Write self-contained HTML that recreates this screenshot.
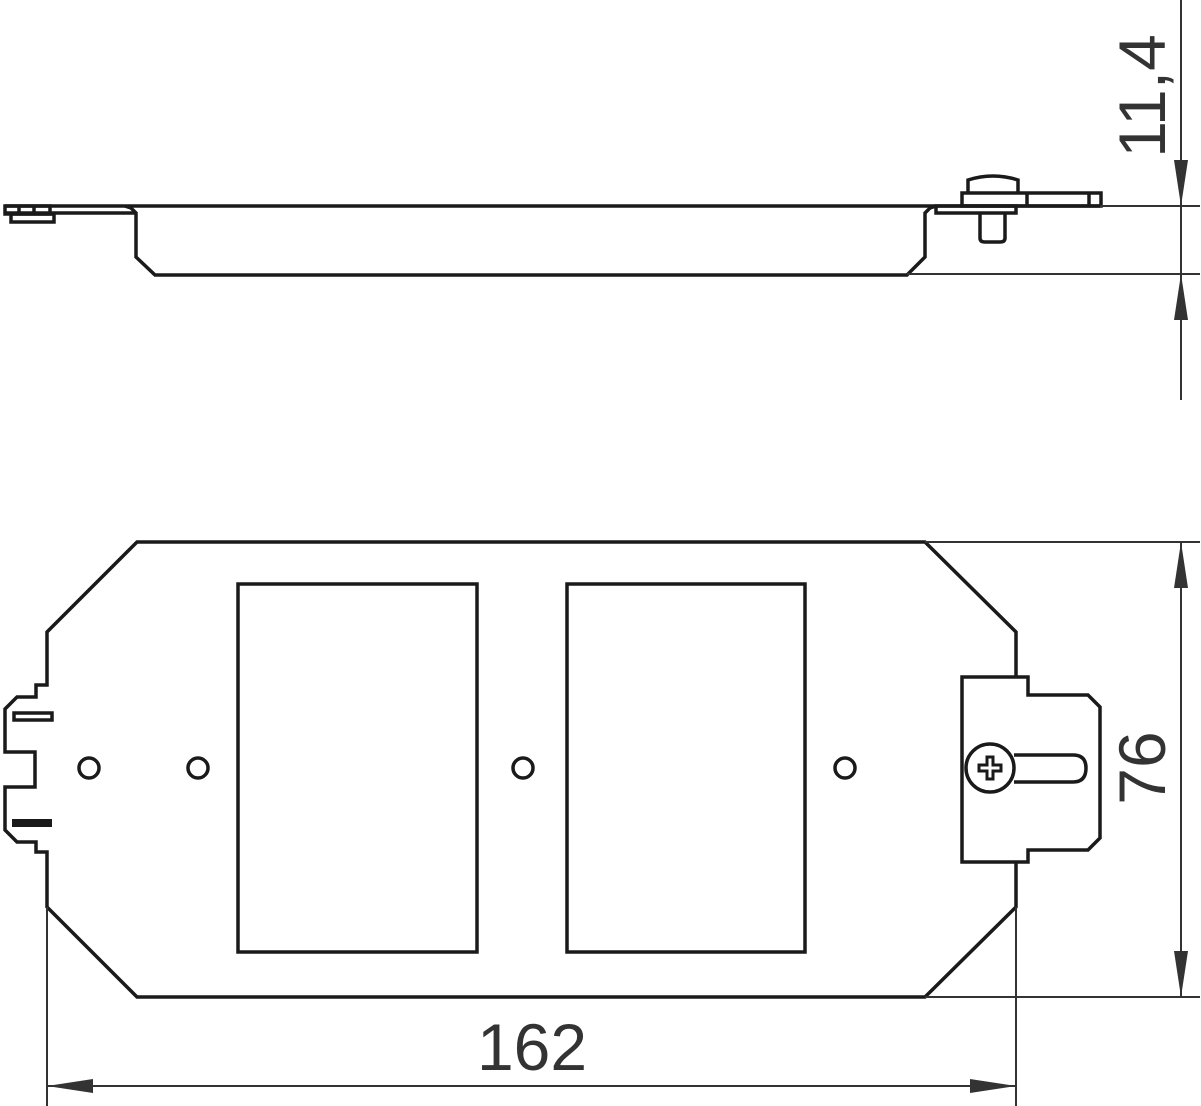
<!DOCTYPE html>
<html><head><meta charset="utf-8"><style>html,body{margin:0;padding:0;background:#fff}svg{display:block}</style></head>
<body>
<svg width="1201" height="1106" viewBox="0 0 1201 1106" xmlns="http://www.w3.org/2000/svg">
<g fill="none" stroke="#1a1a1a" stroke-width="3.5" stroke-linejoin="miter">
<!-- side view -->
<line x1="5" y1="206" x2="1100" y2="206"/>
<line x1="5" y1="213" x2="135" y2="213"/>
<rect x="5" y="206" width="45" height="8"/>
<line x1="19" y1="206" x2="19" y2="213"/><line x1="34" y1="206" x2="34" y2="213"/>
<rect x="11" y="214" width="43" height="8"/>
<path d="M125 206 L131 208 L136 213 L136 257 L155 275 L907 275 L925 257 L925 213 L930 208 L936 206"/>
<rect x="936" y="206" width="80" height="7"/>
<path d="M968 193 L968 180 Q993 172 1018 180 L1018 193"/>
<rect x="962" y="193" width="139" height="13"/>
<line x1="1027" y1="193" x2="1027" y2="206"/>
<line x1="1089" y1="193" x2="1089" y2="206"/>
<path d="M980 213 L980 238 Q980 242 985 242 L1000 242 Q1005 242 1005 238 L1005 213"/>
<!-- plan view -->
<path d="M1016 677 L1016 632 L925 542 L137 542 L47 632 L47 685 L36 685 L36 697 L17 697 L5 709 L5 752 L35 752 L35 787 L5 787 L5 830 L17 842 L36 842 L36 852 L47 852 L47 907 L137 997 L925 997 L1016 907 L1016 862"/>
<rect x="14" y="713" width="38" height="7"/>
<rect x="238" y="584" width="239" height="368"/>
<rect x="567" y="584" width="238" height="368"/>
<circle cx="89" cy="768" r="10"/><circle cx="198" cy="768" r="10"/>
<circle cx="523" cy="768" r="10"/><circle cx="845" cy="768" r="10"/>
<path d="M962 677 L1028 677 L1028 695 L1088 695 L1100 707 L1100 838 L1088 850 L1028 850 L1028 862 L962 862 Z"/>
<path d="M1014 755 L1073 755 Q1086 755 1086 768 Q1086 782 1073 782 L1014 782"/>
<circle cx="990" cy="768" r="24"/>
</g>
<rect x="12" y="819" width="40" height="8" fill="#1a1a1a"/>
<path d="M987 757 h6 v8 h8 v6 h-8 v8 h-6 v-8 h-8 v-6 h8 z" fill="none" stroke="#1a1a1a" stroke-width="3"/>
<!-- dimensions -->
<g stroke="#333" stroke-width="2" fill="none">
<line x1="1100" y1="206" x2="1200" y2="206"/>
<line x1="907" y1="274" x2="1200" y2="274"/>
<line x1="1181" y1="0" x2="1181" y2="400"/>
<line x1="925" y1="542" x2="1200" y2="542"/>
<line x1="925" y1="997" x2="1200" y2="997"/>
<line x1="1181" y1="542" x2="1181" y2="997"/>
<line x1="47" y1="907" x2="47" y2="1106"/>
<line x1="1016" y1="907" x2="1016" y2="1106"/>
<line x1="47" y1="1086" x2="1016" y2="1086"/>
</g>
<g fill="#333">
<polygon points="1181,206 1174,160 1188,160"/>
<polygon points="1181,274 1174,320 1188,320"/>
<polygon points="1181,542 1174,588 1188,588"/>
<polygon points="1181,997 1174,951 1188,951"/>
<polygon points="47,1086 93,1079 93,1093"/>
<polygon points="1016,1086 970,1079 970,1093"/>
</g>
<g font-family="'Liberation Sans', sans-serif" font-size="66" fill="#333">
<text x="532" y="1070" text-anchor="middle">162</text>
<text transform="translate(1165,96) rotate(-90)" text-anchor="middle">11,4</text>
<text transform="translate(1165,768) rotate(-90)" text-anchor="middle">76</text>
</g>
</svg>
</body></html>
